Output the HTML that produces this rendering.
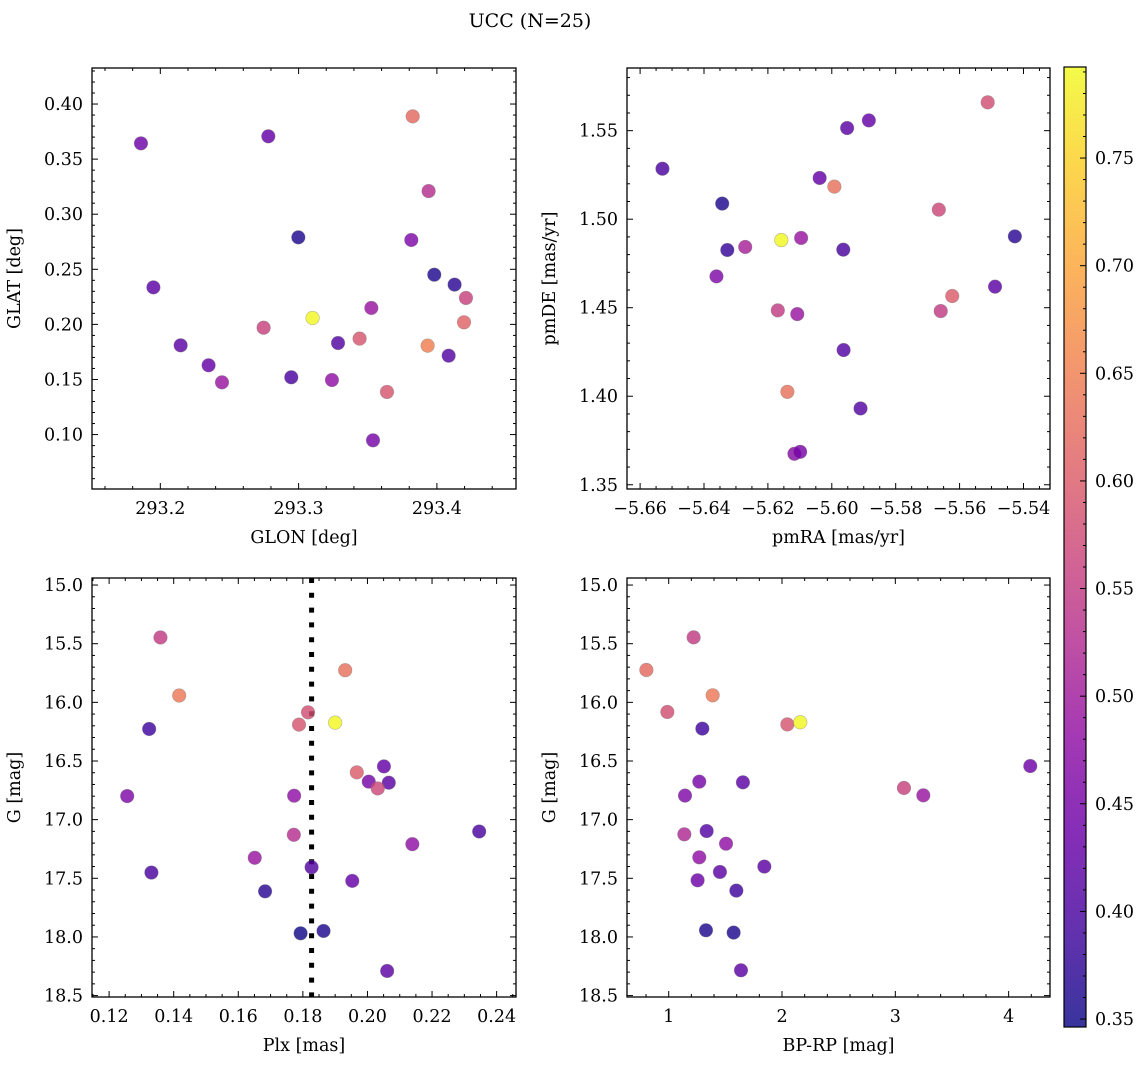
<!DOCTYPE html>
<html><head><meta charset="utf-8">
<style>
html,body{margin:0;padding:0;background:#fff;}
svg{display:block;font-family:"DejaVu Serif","Liberation Serif",serif;}
</style></head>
<body>
<svg id="fig" width="1148" height="1067" viewBox="0 0 1148 1067" xmlns="http://www.w3.org/2000/svg">
<text x="530" y="27" text-anchor="middle" font-size="19">UCC (N=25)</text>
</svg>
<script>
// ---- data ----
const glon = [293.186,293.195,293.2147,293.2349,293.2446,293.2747,293.2781,293.2947,293.2998,293.3101,293.3241,293.3285,293.3441,293.3526,293.3538,293.3639,293.3815,293.3825,293.394,293.3933,293.3981,293.4085,293.4128,293.4196,293.421];
const glat = [0.3643,0.2336,0.181,0.1629,0.1474,0.197,0.3707,0.152,0.279,0.2058,0.1495,0.1831,0.1871,0.2149,0.0948,0.1387,0.2766,0.3888,0.321,0.1807,0.2451,0.1716,0.2361,0.2019,0.224];
const cTL = [0.44,0.42,0.42,0.43,0.49,0.56,0.43,0.40,0.36,0.79,0.48,0.41,0.59,0.49,0.45,0.59,0.46,0.62,0.53,0.65,0.36,0.41,0.37,0.61,0.56];

const pmra = [-5.653,-5.6343,-5.6327,-5.6361,-5.6271,-5.6158,-5.6096,-5.6169,-5.6108,-5.6139,-5.6117,-5.6099,-5.6038,-5.5992,-5.5964,-5.5963,-5.5952,-5.591,-5.5884,-5.5665,-5.5659,-5.5623,-5.5512,-5.5489,-5.5427];
const pmde = [1.5285,1.5088,1.4826,1.4677,1.4843,1.4882,1.4894,1.4485,1.4464,1.4025,1.3675,1.3686,1.5233,1.5184,1.4828,1.4261,1.5515,1.3931,1.5558,1.5054,1.4481,1.4566,1.566,1.4619,1.4903];
const cTR = [0.40,0.36,0.38,0.46,0.51,0.79,0.49,0.55,0.49,0.63,0.47,0.45,0.43,0.63,0.40,0.41,0.42,0.41,0.43,0.57,0.55,0.60,0.58,0.42,0.37];

const plx = [0.1359,0.1417,0.1324,0.1256,0.1331,0.1651,0.1683,0.1772,0.1773,0.1793,0.1816,0.1788,0.1827,0.19,0.1864,0.1931,0.1967,0.2051,0.2004,0.2066,0.2032,0.1953,0.2139,0.2061,0.2346];
const gBL = [15.447,15.942,16.227,16.799,17.451,17.325,17.611,17.129,16.796,17.969,16.085,16.19,17.406,16.173,17.949,15.726,16.597,16.546,16.676,16.685,16.734,17.522,17.209,18.29,17.101];
const cBL = [0.55,0.64,0.39,0.46,0.40,0.49,0.37,0.53,0.48,0.35,0.58,0.59,0.41,0.79,0.36,0.63,0.60,0.43,0.45,0.42,0.57,0.43,0.48,0.42,0.40];
const plxRef = [0.1827];

const bprp = [1.22,0.803,1.388,0.988,1.297,2.047,2.161,4.191,3.076,3.247,1.27,1.655,1.144,1.138,1.335,1.506,1.27,1.452,1.844,1.255,1.597,1.329,1.573,1.638];
const gBR = [15.446,15.724,15.94,16.082,16.224,16.188,16.17,16.543,16.73,16.793,16.676,16.682,16.795,17.125,17.097,17.205,17.321,17.446,17.4,17.517,17.605,17.943,17.963,18.284];
const cBR = [0.55,0.62,0.64,0.58,0.39,0.59,0.79,0.44,0.56,0.49,0.45,0.42,0.46,0.52,0.41,0.48,0.48,0.42,0.42,0.44,0.39,0.36,0.36,0.42];

const ticksGLON = ["293.2","293.3","293.4"];
const ticksGLAT = ["0.10","0.15","0.20","0.25","0.30","0.35","0.40"];
const ticksPMRA = ["−5.66","−5.64","−5.62","−5.60","−5.58","−5.56","−5.54"];
const ticksPMDE = ["1.35","1.40","1.45","1.50","1.55"];
const ticksPLX = ["0.12","0.14","0.16","0.18","0.20","0.22","0.24"];
const ticksG = ["15.0","15.5","16.0","16.5","17.0","17.5","18.0","18.5"];
const ticksBP = ["1","2","3","4"];
const ticksCB = ["0.35","0.40","0.45","0.50","0.55","0.60","0.65","0.70","0.75"];

// ---- rendering ----
const NS = "http://www.w3.org/2000/svg";
const svg = document.getElementById('fig');
const FS = 17.5;
function mk(tag, attrs, parent){
  const e = document.createElementNS(NS, tag);
  for (const k in attrs) e.setAttribute(k, attrs[k]);
  (parent||svg).appendChild(e);
  return e;
}
const stops = ["#0d0887","#41049d","#6a00a8","#8f0da4","#b12a90","#cc4778","#e16462","#f2844b","#fca636","#fcce25","#f0f921"];
const VMIN = 0.3463, VMAX = 0.7923;
function hex(h){return [parseInt(h.substr(1,2),16),parseInt(h.substr(3,2),16),parseInt(h.substr(5,2),16)];}
function plasma(v){
  let t = (v - VMIN)/(VMAX - VMIN); t = Math.max(0, Math.min(1, t));
  const s = t*10, i = Math.min(9, Math.floor(s)), f = s - i;
  const a = hex(stops[i]), b = hex(stops[i+1]);
  return `rgb(${Math.round(a[0]+(b[0]-a[0])*f)},${Math.round(a[1]+(b[1]-a[1])*f)},${Math.round(a[2]+(b[2]-a[2])*f)})`;
}
function lin(d0,d1,r0,r1){return v => r0 + (v-d0)/(d1-d0)*(r1-r0);}

function panel(name, box, xd, yd, xt, yt, xMinor, yMinor, xlabel, ylabel){
  const [x0,y0,x1,y1] = box;
  const g = mk('g', {});
  
  
  const sx = lin(xd[0], xd[1], x0, x1), sy = lin(yd[0], yd[1], y1, y0);
  const tg = mk('g', {stroke:'#000','stroke-width':1}, g);
  
  
  const step = (a,b,s,fn) => { for (let v = Math.ceil(a/s-1e-9)*s; v <= b+1e-9; v += s) fn(v); };
  step(Math.min(xd[0],xd[1]), Math.max(xd[0],xd[1]), xMinor, v => {
    const X = sx(v); const maj = xt.some(t => Math.abs(parseFloat(t.replace('−','-'))-v) < xMinor/10);
    const L = maj ? 6 : 3;
    mk('line', {x1:X,y1:y1,x2:X,y2:y1-L}, tg); mk('line', {x1:X,y1:y0,x2:X,y2:y0+L}, tg);
  });
  step(Math.min(yd[0],yd[1]), Math.max(yd[0],yd[1]), yMinor, v => {
    const Y = sy(v); const maj = yt.some(t => Math.abs(parseFloat(t)-v) < yMinor/10);
    const L = maj ? 6 : 3;
    mk('line', {x1:x0,y1:Y,x2:x0+L,y2:Y}, tg); mk('line', {x1:x1,y1:Y,x2:x1-L,y2:Y}, tg);
  });
  xt.forEach(t => {
    const v = parseFloat(t.replace('−','-'));
    const e = mk('text', {x:sx(v), y:y1+25, 'text-anchor':'middle','font-size':FS}, g);
    
    
    e.textContent = t;
  });
  yt.forEach(t => {
    const v = parseFloat(t);
    const e = mk('text', {x:x0-9, y:sy(v)+6, 'text-anchor':'end','font-size':FS}, g);
    
    
    e.textContent = t;
  });
  const xl = mk('text', {x:(x0+x1)/2, y:y1+54, 'text-anchor':'middle','font-size':FS}, g);
  
  
  xl.textContent = xlabel;
  const yx = x0 - 72, yy = (y0+y1)/2;
  const yl = mk('text', {x:yx, y:yy, 'text-anchor':'middle','font-size':FS, transform:`rotate(-90 ${yx} ${yy})`}, g);
  
  
  yl.textContent = ylabel;
  return {g, sx, sy, box};
}
function frame(p){
  const [x0,y0,x1,y1] = p.box;
  const r = mk('rect', {x:x0,y:y0,width:x1-x0,height:y1-y0,fill:'none',stroke:'#000','stroke-width':1.3}, p.g);
  
  
}
function scatter(p, xs, ys, cs){
  const [x0,y0,x1,y1] = p.box;
  const cid = 'clip' + Math.round(x0) + Math.round(y0);
  const cp = mk('clipPath', {id:cid}, p.g);
  mk('rect', {x:x0,y:y0,width:x1-x0,height:y1-y0}, cp);
  const sg = mk('g', {'clip-path':`url(#${cid})`}, p.g);
  
  
  xs.forEach((v,i) => {
    const c = mk('circle', {cx:p.sx(v), cy:p.sy(ys[i]), r:6.8, fill:plasma(cs[i]), 'fill-opacity':0.82, stroke:'#777','stroke-opacity':0.5,'stroke-width':0.6}, sg);
    
    
  });
  return sg;
}

const TL = panel('panel-glon-glat', [92,68,516,489], [293.1506,293.4572], [0.0506,0.4327], ticksGLON, ticksGLAT, 0.02, 0.01, 'GLON [deg]', 'GLAT [deg]');
scatter(TL, glon, glat, cTL); frame(TL);
const TR = panel('panel-pmra-pmde', [627,68,1050,489], [-5.6641,-5.5317], [1.3476,1.5854], ticksPMRA, ticksPMDE, 0.005, 0.01, 'pmRA [mas/yr]', 'pmDE [mas/yr]');
scatter(TR, pmra, pmde, cTR); frame(TR);
const BL = panel('panel-plx-g', [92,578,516,997], [0.1147,0.246], [18.512,14.94], ticksPLX, ticksG, 0.005, 0.1, 'Plx [mas]', 'G [mag]');
{
  const X = BL.sx(plxRef[0]);
  const l = mk('line', {x1:X,y1:578,x2:X,y2:997,stroke:'#000','stroke-width':5,'stroke-dasharray':'5 9.8'}, BL.g);
  
  
}
scatter(BL, plx, gBL, cBL); frame(BL);
const BR = panel('panel-bprp-g', [627,578,1050,997], [0.632,4.365], [18.512,14.94], ticksBP, ticksG, 0.2, 0.1, 'BP-RP [mag]', 'G [mag]');
scatter(BR, bprp, gBR, cBR); frame(BR);

// colorbar
{
  const cb = mk('g', {});
  
  
  const x0 = 1064, x1 = 1086, y0 = 67, y1 = 1027;
  const grad = mk('linearGradient', {id:'cbgrad', x1:0, y1:1, x2:0, y2:0}, cb);
  for (let k = 0; k <= 20; k++){
    const v = VMIN + (VMAX-VMIN)*k/20;
    mk('stop', {offset:(k/20), 'stop-color':plasma(v), 'stop-opacity':0.82}, grad);
  }
  const r = mk('rect', {x:x0,y:y0,width:x1-x0,height:y1-y0,fill:'url(#cbgrad)',stroke:'#000','stroke-width':1.2}, cb);
  
  
  const sy = lin(VMIN, VMAX, y1, y0);
  for (let v = 0.35; v <= VMAX+1e-9; v += 0.01){
    const Y = sy(v); const maj = ticksCB.some(t => Math.abs(parseFloat(t)-v) < 0.001);
    mk('line', {x1:x1,y1:Y,x2:x1-(maj?6:3),y2:Y,stroke:'#000','stroke-width':1}, cb);
  }
  ticksCB.forEach(t => {
    const e = mk('text', {x:x1+9, y:sy(parseFloat(t))+6, 'font-size':FS}, cb);
    
    
    e.textContent = t;
  });
}
</script>
</body></html>
